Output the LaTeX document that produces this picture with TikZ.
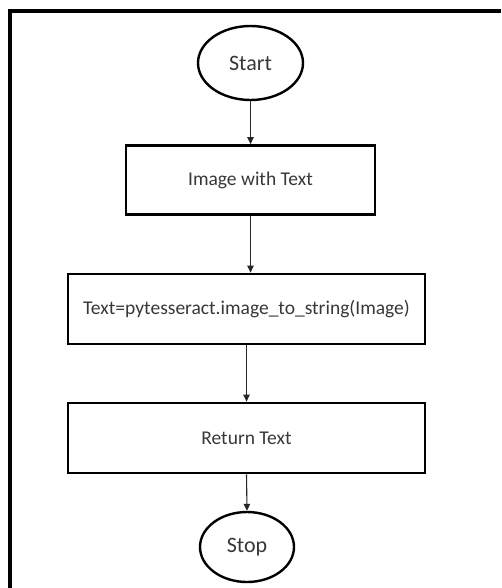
\documentclass[tikz,border=0pt]{standalone}
\usepackage{fontspec}
\setmainfont{Carlito}
\usetikzlibrary{shapes.geometric,arrows.meta}
\tikzset{
  terminal/.style={ellipse, draw=black, line width=2.4pt, inner sep=0pt,
    text=black!78, font=\fontsize{22}{24}\selectfont},
  procbox/.style={rectangle, draw=black, line width=2.8pt, inner sep=0pt,
    text=black!78, font=\fontsize{19.5}{22}\selectfont},
  flow/.style={draw=black!85, line width=1.1pt,
    -{Triangle[length=7pt,width=6.5pt]}},
}
\begin{document}
\begin{tikzpicture}[x=1pt,y=-1pt]
  \useasboundingbox (0,0) rectangle (501,588);
  \fill[white] (0,0) rectangle (501,588);
  % outer frame, open to the right and bottom
  \draw[line width=4pt] (9.5,588) -- (9.5,11.3) -- (501,11.3);

  \node[terminal, minimum width=105pt, minimum height=74pt] (start) at (250.5,63) {Start};
  \node[procbox, minimum width=249pt, minimum height=69pt] (img) at (250.5,180) {Image with Text};
  \node[procbox, minimum width=357pt, minimum height=70pt] (ocr) at (246.5,309) {Text=pytesseract.image\_to\_string(Image)};
  \node[procbox, minimum width=357pt, minimum height=70pt] (ret) at (246.5,438) {Return Text};
  \node[terminal, minimum width=94pt, minimum height=70pt] (stop) at (247,547) {Stop};

  \draw[flow] (start.south) -- (img.north);
  \draw[flow] (img.south) -- (img.south |- ocr.north);
  \draw[flow] (ocr.south) -- (ret.north);
  \draw[flow] (ret.south) -- (stop.north);
\end{tikzpicture}
\end{document}
